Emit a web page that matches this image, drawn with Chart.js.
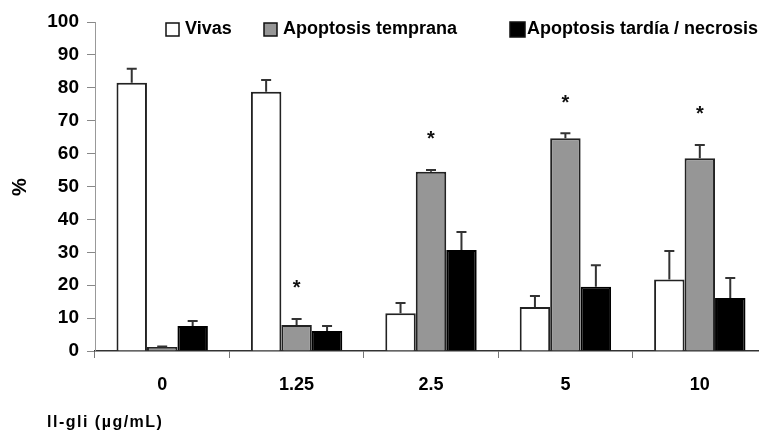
<!DOCTYPE html>
<html>
<head>
<meta charset="utf-8">
<script src="https://cdn.jsdelivr.net/npm/chart.js@4/dist/chart.umd.min.js"></script>
<style>
  html, body { margin: 0; padding: 0; background: #fff; overflow: hidden; }
  #wrap { width: 759px; height: 432px; overflow: hidden; }
</style>
</head>
<body>
<div id="wrap"><canvas id="chart" width="772" height="432"></canvas></div>
<script>
// concentrations (ug/mL)
const doses = ['0', '1.25', '2.5', '5', '10'];

const vivas = [81.5, 78.8, 11.5, 13.4, 21.7];
const vivasErr = [4.3, 3.6, 3.1, 3.3, 8.7];

const tempranas = [1.2, 7.9, 54.5, 64.7, 58.6];
const tempranasErr = [0.2, 1.8, 0.5, 1.5, 4.0];

const tardias = [7.6, 6.1, 30.7, 19.5, 16.1];
const tardiasErr = [1.5, 1.5, 5.5, 6.6, 6.1];

// significance marks over the early apoptosis bars
const signif = [false, true, true, true, true];

const yTicks = [0, 10, 20, 30, 40, 50, 60, 70, 80, 90, 100];

const FONT = '"Liberation Sans", Arial, sans-serif';

// upper error whiskers + asterisks
const errorBars = {
  id: 'errorBars',
  afterDatasetsDraw(chart) {
    const ctx = chart.ctx;
    const y = chart.scales.y;
    ctx.save();
    chart.data.datasets.forEach((ds, i) => {
      const meta = chart.getDatasetMeta(i);
      meta.data.forEach((bar, j) => {
        const top = ds.data[j] + ds.errors[j];
        const yTop = y.getPixelForValue(top);
        ctx.strokeStyle = '#333';
        ctx.lineWidth = 2;
        ctx.beginPath();
        ctx.moveTo(bar.x, bar.y);
        ctx.lineTo(bar.x, yTop);
        ctx.moveTo(bar.x - 5, yTop);
        ctx.lineTo(bar.x + 5, yTop);
        ctx.stroke();
        if (ds.marks && ds.marks[j]) {
          const ya = y.getPixelForValue(top + 8.7);
          ctx.fillStyle = '#111';
          ctx.font = 'bold 20px ' + FONT;
          const m = ctx.measureText('*');
          ctx.textAlign = 'center';
          ctx.textBaseline = 'alphabetic';
          const h = m.actualBoundingBoxAscent - m.actualBoundingBoxDescent;
          ctx.fillText('*', bar.x, ya + m.actualBoundingBoxAscent - h / 2);
        }
      });
    });
    ctx.restore();
  }
};

// legend row, "%" and x-axis caption
const labels = {
  id: 'labels',
  afterDraw(chart) {
    const ctx = chart.ctx;
    ctx.save();
    const items = [
      {x: 166, size: 13},
      {x: 264, size: 13},
      {x: 510, size: 15}
    ];
    ctx.font = 'bold 18px ' + FONT;
    ctx.textBaseline = 'middle';
    ctx.textAlign = 'left';
    chart.data.datasets.forEach((ds, i) => {
      const it = items[i];
      const yc = 29.5;
      ctx.fillStyle = ds.backgroundColor;
      ctx.fillRect(it.x, yc - it.size / 2, it.size, it.size);
      ctx.strokeStyle = '#111';
      ctx.lineWidth = 1.5;
      ctx.strokeRect(it.x, yc - it.size / 2, it.size, it.size);
      ctx.fillStyle = '#000';
      ctx.fillText(ds.label, it.x + it.size + (i === 2 ? 2 : 6), yc);
    });

    ctx.font = 'bold 20px ' + FONT;
    ctx.translate(20, 187);
    ctx.rotate(-Math.PI / 2);
    ctx.textAlign = 'center';
    ctx.fillText('%', 0, 0);
    ctx.setTransform(1, 0, 0, 1, 0, 0);

    ctx.font = 'bold 16px ' + FONT;
    ctx.letterSpacing = '1.5px';
    ctx.textAlign = 'left';
    ctx.fillText('ll-gli (\u00b5g/mL)', 47, 423);
    ctx.restore();
  }
};

new Chart(document.getElementById('chart'), {
  type: 'bar',
  data: {
    labels: doses,
    datasets: [
      {
        label: 'Vivas',
        data: vivas,
        errors: vivasErr,
        backgroundColor: '#ffffff',
        borderColor: '#222',
        borderWidth: 2
      },
      {
        label: 'Apoptosis temprana',
        data: tempranas,
        errors: tempranasErr,
        marks: signif,
        backgroundColor: '#969696',
        borderColor: '#222',
        borderWidth: 2
      },
      {
        label: 'Apoptosis tardía / necrosis',
        data: tardias,
        errors: tardiasErr,
        backgroundColor: '#000000',
        borderColor: '#000',
        borderWidth: 2
      }
    ]
  },
  options: {
    responsive: false,
    animation: false,
    layout: {padding: {top: 22, left: 0, right: 5, bottom: 0}},
    plugins: {legend: {display: false}, tooltip: {enabled: false}},
    datasets: {bar: {categoryPercentage: 0.68, barPercentage: 1.0, borderSkipped: 'bottom'}},
    scales: {
      x: {
        grid: {offset: true, drawOnChartArea: false, tickLength: 7, color: '#777', lineWidth: 1},
        border: {color: '#333', width: 1.5},
        ticks: {color: '#000', font: {family: FONT, size: 18, weight: 'bold'}, padding: 16},
        afterFit(scale) { scale.height = 81; }
      },
      y: {
        min: 0,
        max: 100,
        afterBuildTicks(scale) { scale.ticks = yTicks.map(v => ({value: v})); },
        grid: {drawOnChartArea: false, tickLength: 8, color: '#888'},
        border: {color: '#999', width: 1},
        ticks: {color: '#000', font: {family: FONT, size: 19, weight: 'bold'}, padding: 8},
        afterFit(scale) { scale.width = 95; }
      }
    }
  },
  plugins: [errorBars, labels]
});
</script>
</body>
</html>
